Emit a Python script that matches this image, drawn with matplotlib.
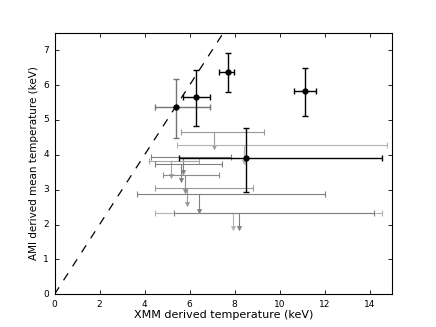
import matplotlib
matplotlib.use('Agg')
import matplotlib.pyplot as plt
import numpy as np

plt.style.use('classic')

# detected clusters: XMM T, AMI T, asymmetric errors
det_x = [5.4, 6.3, 7.7, 11.1, 8.5]
det_y = [5.37, 5.67, 6.37, 5.83, 3.91]
det_xlo = [0.92, 0.6, 0.39, 0.47, 2.99]
det_xhi = [1.5, 0.6, 0.29, 0.52, 6.05]
det_ylo = [0.89, 0.85, 0.57, 0.73, 0.97]
det_yhi = [0.79, 0.75, 0.56, 0.65, 0.85]
det_col = ['0.45', 'k', 'k', 'k', 'k']

# upper limits: XMM T, AMI limit, arrow tip, XMM range
ul_x = [7.1, 8.42, 5.7, 5.19, 5.6, 5.8, 5.88, 6.4, 7.92, 8.21]
ul_y = [4.66, 4.28, 3.95, 3.83, 3.73, 3.43, 3.04, 2.87, 2.34, 2.34]
ul_tip = [4.21, 3.8, 3.51, 3.38, 3.28, 2.97, 2.59, 2.4, 1.89, 1.89]
ul_xmin = [5.6, 5.42, 4.29, 4.2, 4.48, 4.81, 4.48, 3.68, 4.48, 5.3]
ul_xmax = [9.3, 14.75, 7.83, 6.4, 7.43, 7.32, 8.81, 12.02, 14.55, 14.2]
ul_col = ['0.6', '0.7', '0.5', '0.65', '0.5', '0.55', '0.6', '0.5', '0.7', '0.5']

fig = plt.figure(figsize=(4.36, 3.27), dpi=100, facecolor='white')
ax = fig.add_axes([0.125, 0.1, 0.775, 0.8])

ax.plot([0, 15], [0, 15], 'k--', lw=0.9)

for i in range(len(ul_x)):
    c = ul_col[i]
    xerr = [[ul_x[i] - ul_xmin[i]], [ul_xmax[i] - ul_x[i]]]
    ax.errorbar([ul_x[i]], [ul_y[i]], xerr=xerr, fmt='none', ecolor=c,
                elinewidth=0.8, capsize=2, capthick=0.8)
    ax.plot([ul_x[i], ul_x[i]], [ul_y[i], ul_tip[i]], color=c, lw=0.8)
    ax.plot([ul_x[i]], [ul_tip[i]], marker='v', color=c, mec=c, ms=3)

for i in range(len(det_x)):
    c = det_col[i]
    ax.errorbar([det_x[i]], [det_y[i]],
                xerr=[[det_xlo[i]], [det_xhi[i]]],
                yerr=[[det_ylo[i]], [det_yhi[i]]],
                fmt='o', color='k', mec='k', ms=4, ecolor=c,
                elinewidth=1.0, capsize=2, capthick=1.0)

ax.set_xlim(0, 15)
ax.set_ylim(0, 7.5)
ax.set_xticks(np.arange(0, 15, 2))
ax.set_yticks(np.arange(0, 8, 1))
ax.tick_params(labelsize=6.5, length=3, width=0.6)
for s in ax.spines.values():
    s.set_linewidth(0.8)

ax.set_xlabel('XMM derived temperature (keV)', fontsize=8, labelpad=1)
ax.set_ylabel('AMI derived mean temperature (keV)', fontsize=7.5, labelpad=3)

fig.savefig('out.png', dpi=100, facecolor='white')
